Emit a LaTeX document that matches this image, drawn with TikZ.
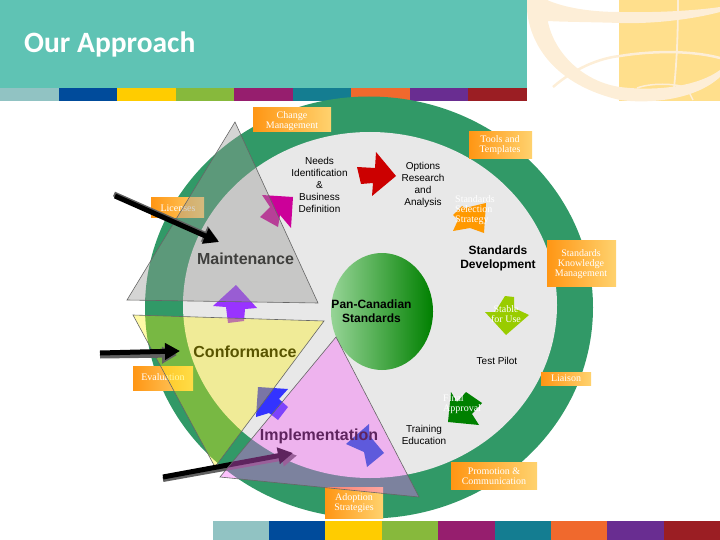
\documentclass[tikz,border=0pt]{standalone}
\usepackage{fontspec}
\setmainfont{Liberation Serif}
\setsansfont{Liberation Sans}
\newfontfamily\titlefont{Carlito}
\usetikzlibrary{arrows.meta}

\definecolor{headteal}{RGB}{95,195,180}
\definecolor{ringgreen}{RGB}{49,153,103}
\definecolor{innergrey}{RGB}{232,232,232}
\definecolor{cream}{RGB}{253,238,215}
\definecolor{paleyellow}{RGB}{255,223,140}
\definecolor{boxleft}{RGB}{255,150,20}
\definecolor{boxright}{RGB}{255,210,110}
\definecolor{triggrey}{RGB}{154,154,150}
\definecolor{trigpink}{RGB}{248,95,248}
\definecolor{coreleft}{RGB}{150,212,150}
\definecolor{coreright}{RGB}{0,128,0}
\definecolor{stripa}{RGB}{145,195,195}
\definecolor{stripb}{RGB}{0,75,155}
\definecolor{stripc}{RGB}{255,204,0}
\definecolor{stripd}{RGB}{135,185,60}
\definecolor{stripe}{RGB}{150,30,110}
\definecolor{stripf}{RGB}{20,125,145}
\definecolor{stripg}{RGB}{240,105,45}
\definecolor{striph}{RGB}{105,45,145}
\definecolor{stripi}{RGB}{155,30,35}
\definecolor{arrred}{RGB}{204,0,0}
\definecolor{arrmagenta}{RGB}{204,0,153}
\definecolor{arrviolet}{RGB}{153,51,255}
\definecolor{arrorange}{RGB}{255,153,0}
\definecolor{arrlime}{RGB}{153,204,0}
\definecolor{arrgreen}{RGB}{0,128,0}
\definecolor{arrblue}{RGB}{51,51,255}
\definecolor{arrsteel}{RGB}{0,87,203}

\tikzset{
  lblbox/.style={left color=boxleft, right color=boxright, draw=none},
  lbltext/.style={text=white, font=\rmfamily\fontsize{10}{10}\selectfont, align=center, inner sep=0pt},
  steptext/.style={text=black, font=\sffamily\fontsize{10}{12}\selectfont, align=center, inner sep=0pt},
  headtext/.style={text=black, font=\sffamily\bfseries\fontsize{12}{14}\selectfont, align=center, inner sep=0pt},
  trigtext/.style={text=black, font=\sffamily\bfseries\fontsize{16}{18}\selectfont, inner sep=0pt},
  trig/.style={draw=black!60, line width=0.6pt},
  bigarrow/.style={line width=5pt, -{Triangle[length=15pt,width=16pt]}},
  bigshadow/.style={line width=5pt, black!62, -{Triangle[length=15pt,width=16pt]}},
}

\begin{document}
\begin{tikzpicture}[x=1pt,y=-1pt]
  \useasboundingbox (0,0) rectangle (720,540);

  % header
  \fill[headteal] (0,0) rectangle (527,88);
  \node[anchor=base west, text=white, inner sep=0pt, font=\titlefont\bfseries\fontsize{29.5}{31}\selectfont] (title) at (24,53) {Our Approach}; %

  % globe corner
  \fill[paleyellow] (619,0) rectangle (720,101);
  \fill[cream] (527,0) -- (527,10) .. controls (530,45) and (555,85) .. (620,100) .. controls (650,104) and (695,100) .. (720,77) -- (720,70) .. controls (700,85) and (660,92) .. (620,87) .. controls (585,82) and (555,55) .. (548,22) -- (548,0) -- cycle;
  \fill[cream] (547,0) .. controls (570,10) and (600,12) .. (620,12) .. controls (660,13) and (700,10) .. (720,7) -- (720,12) .. controls (690,20) and (650,24) .. (620,23) .. controls (590,22) and (565,22) .. (548,21) -- cycle;
  \draw[cream, line width=2.5pt] (553,87) .. controls (575,68) and (600,58) .. (620,56) .. controls (650,51) and (690,50) .. (720,58);
  \draw[cream, line width=1.8pt] (678,0) .. controls (678,30) and (677,60) .. (674,88);
  \draw[cream, line width=1.5pt] (637,88) .. controls (650,83) and (675,83) .. (687,88) -- (693,100);

  % colour strips
  \foreach \col [count=\i from 0] in {stripa,stripb,stripc,stripd,stripe,stripf,stripg,striph,stripi} {
    \fill[\col] (58.55*\i,88) rectangle (58.55*\i+58.55,101);
    \fill[\col] (212.5+56.4*\i,521) rectangle (212.5+56.4*\i+56.4,540);
  }

  % wheel
  \fill[ringgreen] (369,307.5) ellipse [x radius=224, y radius=211];
  \fill[innergrey] (370,305) ellipse [x radius=187, y radius=173];
  \shade[left color=coreleft, right color=coreright] (382,311.5) ellipse [x radius=51, y radius=58.5];

  % small step arrows
  \fill[arrred] (357,167) -- (375,168) -- (376,152) -- (396,176) -- (372,196) -- (373,183) -- (361,184) -- cycle;
  \fill[arrmagenta] (262,195) -- (293,197) -- (291,228) -- (280,215) -- (278,227) -- (260,217) -- (270,207) -- cycle;
  \fill[arrviolet] (236,285) -- (257,308) -- (245,309) -- (244,321) -- (228,323) -- (226,307) -- (213,306) -- cycle;
  \fill[arrorange] (486,203) -- (484,233) -- (470,228) -- (453,231) -- (458,220) -- (453,215) -- (462,206) -- (465,208) -- cycle;
  \fill[arrlime] (505,296) -- (514,297) -- (514,308) -- (529,315) -- (506,335) -- (485,312) -- (495,312) -- cycle;
  \fill[arrgreen] (451,392) -- (457,402) -- (466,392) -- (482,403) -- (472,414) -- (479,425) -- (448,422) -- cycle;
  \fill[arrblue] (258,387) -- (288,389) -- (279,399) -- (288,407) -- (278,420) -- (269,413) -- (256,417) -- cycle;
  \fill[arrsteel] (369,424) -- (369,435) -- (384,453) -- (367,467) -- (364,452) -- (346,444) -- cycle;

  % label boxes
  \shade[lblbox] (253,108) rectangle (331,132);
  \shade[lblbox] (469,132) rectangle (532,159);
  \shade[lblbox] (151,198) rectangle (204,218);
  \shade[lblbox] (547,240) rectangle (616,286);
  \shade[lblbox] (133,366) rectangle (193,390);
  \shade[lblbox] (541,372) rectangle (591,385);
  \shade[lblbox] (451,462) rectangle (537,489);
  \shade[lblbox] (325,487) rectangle (383,518);

  \node[lbltext] (change) at (292,121) {Change\\Management}; %
  \node[lbltext] (tools) at (500,145.5) {Tools and\\Templates}; %
  \node[lbltext] (licenses) at (178,208) {Licenses}; %
  \node[lbltext] (knowledge) at (581,264) {Standards\\Knowledge\\Management}; %
  \node[lbltext] (evaluation) at (163,377.5) {Evaluation}; %
  \node[lbltext] (liaison) at (566,378) {Liaison}; %
  \node[lbltext] (promotion) at (494,476) {Promotion \&\\Communication}; %
  \node[lbltext] (adoption) at (354,503) {Adoption\\Strategies}; %

  % names under the triangles
  \node[trigtext] (maint) at (245.5,259) {Maintenance}; %
  \node[trigtext] (conf) at (245,352) {Conformance}; %
  \node[trigtext] (impl) at (319,436) {Implementation}; %

  % big arrow ends
  \coordinate (ma) at (115,196);
  \coordinate (mb) at (219,242);
  \coordinate (ca) at (100,353);
  \coordinate (cb) at (180,351);
  \coordinate (ia) at (163,477);
  \coordinate (ib) at (293,453);

  % triangles, each big arrow in its own layer
  \filldraw[trig, fill=triggrey, fill opacity=0.41] (235,122) -- (318,303) -- (127,300) -- cycle;
  \draw[bigshadow] ([xshift=-1pt,yshift=2pt]ma) -- ([xshift=-1pt,yshift=2pt]mb);
  \draw[bigarrow] (ma) -- (mb);
  \filldraw[trig, fill=yellow, fill opacity=0.35] (133,315) -- (324,321) -- (215,467) -- cycle;
  \draw[bigshadow] ([yshift=-3pt]ca) -- ([xshift=-3pt,yshift=-4pt]cb);
  \draw[bigarrow] (ca) -- (cb);
  \draw[bigshadow] ([yshift=-2.5pt]ia) -- ([xshift=4pt,yshift=-2.5pt]ib);
  \draw[bigarrow] (ia) -- (ib);
  \filldraw[trig, fill=trigpink, fill opacity=0.38] (336,337) -- (419,497) -- (220,477) -- cycle;

  % texts on top
  \node[steptext] (needs) at (319.5,185) {Needs\\Identification\\\&\\Business\\Definition}; %
  \node[steptext] (options) at (423,185) {Options\\Research\\and\\Analysis}; %
  \node[steptext] (pilot) at (497,361) {Test Pilot}; %
  \node[steptext] (training) at (424,435) {Training\\Education}; %
  \node[headtext] (develop) at (498,258) {Standards\\Development}; %
  \node[headtext] (pan) at (371.5,311.5) {Pan-Canadian\\Standards}; %
  \node[lbltext, align=left, anchor=west] (select) at (455,210.5) {Standards\\Selection\\Strategy}; %
  \node[lbltext] (stable) at (506,314) {Stable\\for Use}; %
  \node[lbltext, align=left, anchor=west] (final) at (443,404) {Final\\Approval}; %

\end{tikzpicture}
\end{document}
